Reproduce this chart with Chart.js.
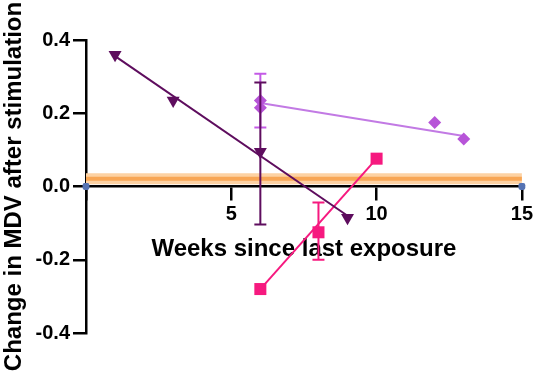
<!DOCTYPE html>
<html>
<head>
<meta charset="utf-8">
<script src="https://cdn.jsdelivr.net/npm/chart.js@4.4.0/dist/chart.umd.min.js"></script>
<style>
  html, body { margin: 0; padding: 0; background: #fff; }
  #wrap { width: 536px; height: 374px; }
</style>
</head>
<body>
<div id="wrap"><canvas id="mdvChart"></canvas></div>
<script>
// data
const darkWeeks = [1, 3, 6, 9];
const darkValues = [0.36, 0.235, 0.095, -0.085];
const darkFitWeeks = [1, 9];
const darkFitValues = [0.356, -0.08];

const lightWeeks = [6, 6, 12, 13];
const lightValues = [0.235, 0.215, 0.175, 0.13];
const lightFitWeeks = [6, 13];
const lightFitValues = [0.228, 0.138];

const pinkWeeks = [6, 8, 10];
const pinkValues = [-0.28, -0.125, 0.076];
const pinkFitWeeks = [6, 10];
const pinkFitValues = [-0.28, 0.076];

const bandWeeks = [0, 15];
const bandValues = [0.021, 0.021];

const baseWeeks = [0, 15];
const baseValues = [0, 0];

// error bars (week, low, high)
const darkErrWeeks = [6];
const darkErrLow = [-0.104];
const darkErrHigh = [0.284];
const lightErrWeeks = [6];
const lightErrLow = [0.161];
const lightErrHigh = [0.308];
const pinkErrWeeks = [8];
const pinkErrLow = [-0.2];
const pinkErrHigh = [-0.044];

const yTicks = [-0.4, -0.2, 0, 0.2, 0.4];

const DARK = '#5e0d5e';
const LIGHT = '#b754d8';
const LIGHT_LINE = '#c27ae4';
const PINK = '#f6197f';

const toPoints = (xs, ys) => xs.map((x, i) => ({ x: x, y: ys[i] }));

// kleines Plugin für die Fehlerbalken
const errorBars = {
    id: 'errorBars',
    afterDatasetsDraw(chart) {
        const ctx = chart.ctx;
        const xs = chart.scales.x;
        const ys = chart.scales.y;
        const groups = [
            { weeks: lightErrWeeks, low: lightErrLow, high: lightErrHigh, color: '#c35ae6' },
            { weeks: darkErrWeeks, low: darkErrLow, high: darkErrHigh, color: DARK },
            { weeks: pinkErrWeeks, low: pinkErrLow, high: pinkErrHigh, color: PINK }
        ];
        ctx.save();
        ctx.lineWidth = 2;
        groups.forEach(g => {
            ctx.strokeStyle = g.color;
            g.weeks.forEach((w, i) => {
                const px = xs.getPixelForValue(w);
                const top = ys.getPixelForValue(g.high[i]);
                const bot = ys.getPixelForValue(g.low[i]);
                ctx.beginPath();
                ctx.moveTo(px, top);
                ctx.lineTo(px, bot);
                ctx.moveTo(px - 6, top);
                ctx.lineTo(px + 6, top);
                ctx.moveTo(px - 6, bot);
                ctx.lineTo(px + 6, bot);
                ctx.stroke();
            });
        });
        ctx.restore();
    }
};

Chart.defaults.font.family = "'Liberation Sans', Arial, sans-serif";
Chart.defaults.color = '#000';

const ctx = document.getElementById('mdvChart').getContext('2d');

new Chart(ctx, {
    type: 'scatter',
    data: {
        datasets: [
            {
                data: toPoints(baseWeeks, baseValues),
                pointStyle: 'rectRounded',
                pointRadius: 4,
                backgroundColor: '#5573b3',
                borderColor: '#5573b3',
                borderWidth: 0,
                clip: false
            },
            {
                data: toPoints(darkWeeks, darkValues),
                pointStyle: 'triangle',
                rotation: 180,
                pointRadius: 7.5,
                backgroundColor: DARK,
                borderColor: DARK,
                borderWidth: 0
            },
            {
                data: toPoints(darkFitWeeks, darkFitValues),
                showLine: true,
                pointRadius: 0,
                borderColor: DARK,
                borderWidth: 2
            },
            {
                data: toPoints(pinkWeeks, pinkValues),
                pointStyle: 'rect',
                pointRadius: 8.5,
                backgroundColor: PINK,
                borderColor: PINK,
                borderWidth: 0
            },
            {
                data: toPoints(pinkFitWeeks, pinkFitValues),
                showLine: true,
                pointRadius: 0,
                borderColor: PINK,
                borderWidth: 2
            },
            {
                data: toPoints(lightWeeks, lightValues),
                pointStyle: 'rectRot',
                pointRadius: 6.5,
                backgroundColor: LIGHT,
                borderColor: LIGHT,
                borderWidth: 0
            },
            {
                data: toPoints(lightFitWeeks, lightFitValues),
                showLine: true,
                pointRadius: 0,
                borderColor: LIGHT_LINE,
                borderWidth: 2
            },
            {
                data: toPoints(bandWeeks, bandValues),
                showLine: true,
                pointRadius: 0,
                borderColor: '#f8a655',
                borderWidth: 4,
                borderCapStyle: 'butt'
            },
            {
                data: toPoints(bandWeeks, bandValues),
                showLine: true,
                pointRadius: 0,
                borderColor: '#fdd2a3',
                borderWidth: 11,
                borderCapStyle: 'butt'
            }
        ]
    },
    options: {
        responsive: true,
        maintainAspectRatio: false,
        animation: false,
        layout: {
            padding: { top: 40, right: 13, left: 0, bottom: 41 }
        },
        plugins: {
            legend: { display: false },
            tooltip: { enabled: false }
        },
        scales: {
            x: {
                type: 'linear',
                position: { y: 0 },
                min: 0,
                max: 15,
                afterFit: (scale) => { scale.height = 41; },
                border: { display: true, color: '#000', width: 2.5 },
                grid: {
                    drawOnChartArea: false,
                    drawTicks: true,
                    tickLength: 13,
                    color: '#000',
                    lineWidth: 2.5
                },
                ticks: {
                    stepSize: 5,
                    padding: 3,
                    font: { size: 20, weight: 'bold' },
                    callback: (v) => (v === 0 ? '' : String(v))
                },
                title: {
                    display: true,
                    text: 'Weeks since last exposure',
                    font: { size: 24, weight: 'bold' },
                    padding: { top: 0, bottom: -36 }
                }
            },
            y: {
                type: 'linear',
                position: 'left',
                min: -0.4,
                max: 0.4,
                afterFit: (scale) => { scale.width = 86; },
                afterBuildTicks: (scale) => {
                    scale.ticks = yTicks.map(v => ({ value: v }));
                },
                border: { display: true, color: '#000', width: 2.5 },
                grid: {
                    drawOnChartArea: false,
                    drawTicks: true,
                    tickLength: 13,
                    color: '#000',
                    lineWidth: 2.5
                },
                ticks: {
                    padding: 3,
                    font: { size: 20, weight: 'bold' },
                    callback: (v) => Number(v).toFixed(1)
                },
                title: {
                    display: true,
                    text: 'Change in MDV after stimulation',
                    font: { size: 24, weight: 'bold' },
                    padding: 0
                }
            }
        }
    },
    plugins: [errorBars]
});
</script>
</body>
</html>
